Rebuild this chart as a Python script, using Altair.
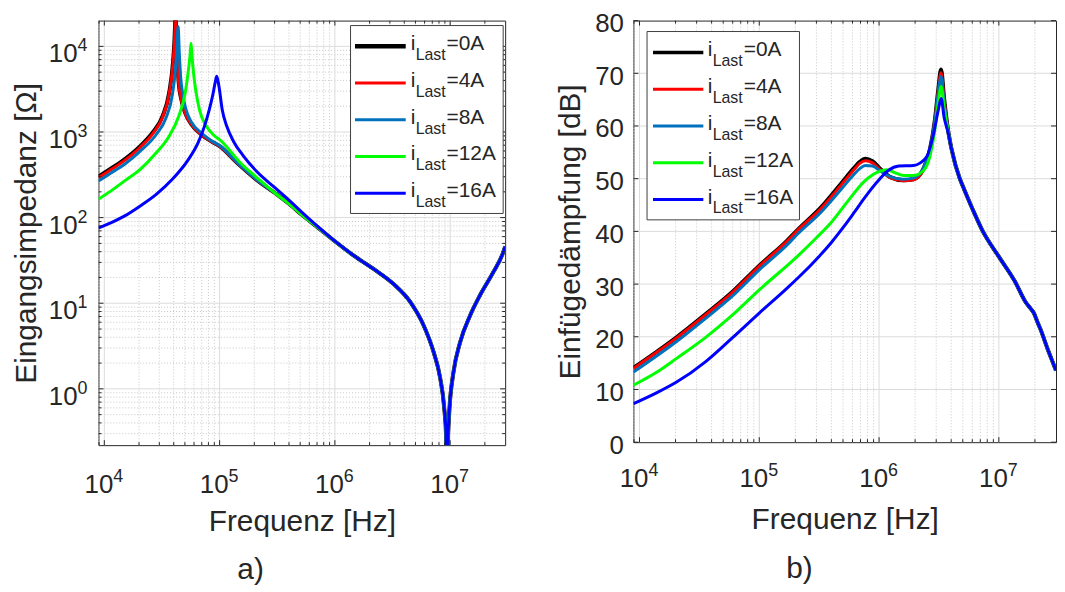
import altair as alt
import pandas as pd

FONT = "Liberation Sans"
TXT = "#262626"
GRID = "#dcdcdc"
MINOR = "#c8c8c8"

names = ["0A", "4A", "8A", "12A", "16A"]
colors = ["#000000", "#FF0000", "#0072BD", "#00FF00", "#0000FF"]
widths = [4.0, 3.0, 3.0, 3.0, 3.0]

# ---------------- panel a) Eingangsimpedanz [Ohm] ----------------
a_f_0A = [8.9e3, 1.2e4, 1.5e4, 2.05e4, 2.65e4, 3.2e4, 3.65e4, 3.94e4, 4.05e4, 4.15e4,
          4.25e4, 4.42e4, 4.66e4, 5.03e4, 5.72e4, 6.93e4, 8.41e4, 1.0e5, 1.41e5, 2.07e5]
a_z_0A = [301, 390, 480, 684, 1000, 1530, 2860, 6400, 11000, 21000,
          9500, 3740, 2390, 1670, 1220, 935, 782, 684, 440, 280]
a_z_4A = [292, 379, 466, 664, 972, 1490, 2780, 6200, 10700, 20500,
          9300, 3700, 2370, 1660, 1215, 932, 780, 683, 440, 280]
a_f_8A = [8.9e3, 1.2e4, 1.49e4, 2.05e4, 2.82e4, 3.42e4, 3.89e4, 4.12e4, 4.25e4, 4.37e4,
          4.47e4, 4.6e4, 4.8e4, 5.1e4, 5.72e4, 6.93e4, 8.4e4, 1.0e5, 1.41e5, 2.07e5]
a_z_8A = [267, 345, 418, 598, 935, 1450, 2700, 5000, 9000, 17100,
          8500, 4300, 2700, 1850, 1290, 980, 797, 695, 445, 282]
a_f_12A = [8.9e3, 1.2e4, 1.49e4, 2.05e4, 2.82e4, 3.65e4, 4.42e4, 5.03e4, 5.37e4, 5.55e4,
           5.65e4, 5.77e4, 5.95e4, 6.25e4, 6.7e4, 7.64e4, 8.97e4, 1.0e5, 1.56e5, 2.07e5]
a_z_12A = [164, 215, 267, 366, 571, 893, 1530, 2860, 5350, 8000,
           10900, 7600, 4800, 2900, 1800, 1180, 910, 815, 420, 300]
a_f_16A = [8.9e3, 1.15e4, 1.49e4, 2.05e4, 2.82e4, 3.89e4, 5.37e4, 6.5e4, 7.4e4, 8.14e4,
           8.68e4, 9.14e4, 9.44e4, 9.87e4, 1.053e5, 1.159e5, 1.318e5, 1.6e5, 2.1e5,
           3.0e5, 4.0e5, 5.3e5, 7.0e5]
a_z_16A = [76, 87.5, 104, 137, 187, 280, 479, 748, 1170, 1830,
           2610, 3740, 4470, 3420, 1830, 1150, 780, 530, 345,
           225, 160, 112, 80]
a_mid_f = [3.0e5, 4.0e5, 5.3e5, 7.0e5]
a_mid_z = [195, 145, 105, 78]
a_tail_f = [1.0e6, 1.47e6, 2.18e6, 3.24e6, 4.52e6, 5.89e6, 7.18e6, 8.2e6, 8.88e6, 9.2e6,
            9.36e6, 9.6e6, 9.87e6, 1.07e7, 1.22e7, 1.49e7, 1.81e7, 2.36e7, 2.88e7, 3.0e7]
a_tail_z = [53, 35.7, 25, 16.7, 10.3, 5.5, 2.7, 1.33, 0.6, 0.3,
            0.12, 0.3, 0.6, 1.58, 3.5, 7.2, 12.3, 22.9, 39, 46]

# ---------------- panel b) Einfuegedaempfung [dB] ----------------
b_f_low = [8.9e3, 1.4e4, 2.04e4, 3.57e4, 5.89e4, 1.0e5, 1.7e5, 2.09e5, 3.26e5, 4.79e5,
           6.17e5, 6.9e5, 7.7e5, 8.8e5, 1.03e6, 1.24e6, 1.6e6, 1.94e6, 2.34e6, 2.66e6,
           2.93e6, 3.12e6, 3.29e6, 3.5e6, 3.75e6]
b_v_0A = [14.1, 17.2, 19.9, 24.3, 28.4, 33.5, 38.2, 40.3, 44.5, 49.0,
          52.0, 53.2, 53.8, 53.3, 51.8, 50.3, 49.7, 49.9, 51.8, 55.6,
          61.3, 66.9, 70.7, 65.0, 59.5]
b_v_4A = [14.0, 17.1, 19.8, 24.2, 28.3, 33.4, 38.1, 40.2, 44.3, 48.7,
          51.7, 52.9, 53.4, 53.0, 51.6, 50.2, 49.6, 49.8, 51.7, 55.5,
          61.1, 66.6, 70.1, 64.7, 59.5]
b_v_8A = [13.3, 16.4, 19.1, 23.5, 27.6, 32.7, 37.4, 39.5, 43.6, 47.9,
          50.8, 51.9, 52.5, 52.4, 51.4, 50.4, 49.9, 50.1, 52.0, 55.6,
          61.0, 66.2, 69.4, 64.3, 59.5]
b_f_12A = [8.9e3, 1.4e4, 2.04e4, 3.57e4, 5.89e4, 1.0e5, 2.09e5, 3.0e5, 3.95e5, 5.43e5,
           7.46e5, 9.62e5, 1.16e6, 1.4e6, 1.6e6, 1.94e6, 2.34e6, 2.66e6, 2.93e6, 3.12e6,
           3.3e6, 3.5e6, 3.75e6]
b_v_12A = [10.8, 13.3, 15.9, 19.9, 24.0, 28.9, 35.3, 38.8, 41.6, 45.6,
           49.4, 51.2, 51.7, 51.0, 50.6, 50.6, 51.5, 54.3, 59.4, 64.4,
           67.5, 63.3, 59.3]
b_f_16A = [8.9e3, 1.4e4, 2.04e4, 3.57e4, 5.89e4, 1.0e5, 1.7e5, 2.09e5, 3.17e5, 4.0e5,
           5.0e5, 6.2e5, 7.7e5, 1.0e6, 1.2e6, 1.46e6, 1.94e6, 2.21e6, 2.52e6, 2.82e6,
           3.12e6, 3.3e6, 3.5e6, 3.75e6]
b_v_16A = [7.3, 9.4, 11.4, 15.3, 19.7, 24.5, 29.2, 31.1, 35.3, 37.9,
           40.7, 43.6, 46.6, 49.8, 51.6, 52.4, 52.5, 53.0, 54.3, 58.0,
           63.0, 65.2, 61.5, 59.0]
b_tail_f = [4.03e6, 4.72e6, 5.0e6, 6.01e6, 7.28e6, 1.0e7, 1.37e7, 1.66e7, 1.85e7, 1.95e7,
            2.1e7, 2.21e7, 2.6e7, 2.86e7, 3.0e7]
b_tail_v = [55.6, 50.0, 48.6, 44.3, 40.2, 35.2, 30.4, 26.7, 25.3, 24.6,
            22.8, 21.6, 17.2, 14.8, 13.6]

# ---------------- ticks ----------------
x_major = [1e4, 1e5, 1e6, 1e7]
a_x_minor = [9e3] + [m * 10 ** k for k in (4, 5, 6) for m in range(2, 10)] + [2e7]
b_x_minor = a_x_minor
a_y_major = [1, 10, 100, 1000, 10000]
a_y_minor = [m / 10 for m in range(3, 10)] + [m * 10 ** k for k in (0, 1, 2, 3) for m in range(2, 10)]
b_y_major = [0, 10, 20, 30, 40, 50, 60, 70, 80]
b_y_grid = [10, 20, 30, 40, 50, 60, 70]

ONE = pd.DataFrame({"k": [0]})
LBL = 26   # tick label font size
EXP = 18   # exponent font size


def series_df(f_parts, v_parts):
    f, v = [], []
    for a, b in zip(f_parts, v_parts):
        f += a
        v += b
    return pd.DataFrame({"f": f, "v": v})


def build_panel(dfs, XS, YS, xaxis, yaxis, W, H, x_minor, y_major_grid, y_minor,
                y_ticks_major, y_ticks_minor, leg, cap, cap_xy, xlab_base, ylog):
    layers = []

    def X(field):
        return alt.X(field, scale=XS, axis=xaxis)

    def Y(field):
        return alt.Y(field, scale=YS, axis=yaxis)

    # minor grid
    layers.append(alt.Chart(pd.DataFrame({"t": x_minor})).mark_rule(
        color=MINOR, strokeWidth=1, strokeDash=[1, 2]).encode(x=X("t:Q")))
    if y_minor:
        layers.append(alt.Chart(pd.DataFrame({"t": y_minor})).mark_rule(
            color=MINOR, strokeWidth=1, strokeDash=[1, 2]).encode(y=Y("t:Q")))
    # major grid
    layers.append(alt.Chart(pd.DataFrame({"t": x_major})).mark_rule(
        color=GRID, strokeWidth=1).encode(x=X("t:Q")))
    layers.append(alt.Chart(pd.DataFrame({"t": y_major_grid})).mark_rule(
        color=GRID, strokeWidth=1).encode(y=Y("t:Q")))
    # data lines
    for df, c, w in zip(dfs, colors, widths):
        layers.append(alt.Chart(df).mark_line(
            color=c, strokeWidth=w, clip=True, strokeJoin="round",
            interpolate="monotone").encode(x=X("f:Q"), y=Y("v:Q")))
    # inside ticks
    for vals, L in ((x_major, 5), (x_minor, 3)):
        d = pd.DataFrame({"t": vals})
        layers.append(alt.Chart(d).mark_rule(color=TXT, strokeWidth=1).encode(
            x=X("t:Q"), y=alt.value(H), y2=alt.value(H - L)))
        layers.append(alt.Chart(d).mark_rule(color=TXT, strokeWidth=1).encode(
            x=X("t:Q"), y=alt.value(0), y2=alt.value(L)))
    for vals, L in ((y_ticks_major, 5), (y_ticks_minor, 3)):
        if not vals:
            continue
        d = pd.DataFrame({"t": vals})
        layers.append(alt.Chart(d).mark_rule(color=TXT, strokeWidth=1).encode(
            y=Y("t:Q"), x=alt.value(0), x2=alt.value(L)))
        layers.append(alt.Chart(d).mark_rule(color=TXT, strokeWidth=1).encode(
            y=Y("t:Q"), x=alt.value(W), x2=alt.value(W - L)))
    # power-of-ten tick labels on the x axis ("10" + raised exponent)
    xl = alt.Chart(pd.DataFrame({"t": x_major})).transform_calculate(
        e="'' + round(log(datum.t) / LN10)")
    layers.append(xl.mark_text(text="10", font=FONT, fontSize=LBL, color=TXT,
                               align="right", baseline="alphabetic", dx=9).encode(
        x=X("t:Q"), y=alt.value(H + xlab_base)))
    layers.append(xl.mark_text(font=FONT, fontSize=EXP, color=TXT,
                               align="left", baseline="alphabetic", dx=9).encode(
        x=X("t:Q"), y=alt.value(H + xlab_base - 11), text=alt.Text("e:N")))
    if ylog:
        yl = alt.Chart(pd.DataFrame({"t": y_ticks_major})).transform_calculate(
            e="'' + round(log(datum.t) / LN10)")
        layers.append(yl.mark_text(text="10", font=FONT, fontSize=LBL, color=TXT,
                                   align="right", baseline="alphabetic", dy=16).encode(
            x=alt.value(-21), y=Y("t:Q")))
        layers.append(yl.mark_text(font=FONT, fontSize=EXP, color=TXT,
                                   align="left", baseline="alphabetic", dy=5).encode(
            x=alt.value(-21), y=Y("t:Q"), text=alt.Text("e:N")))
    # legend
    bx0, bx1, by0, by1 = leg["box"]
    layers.append(alt.Chart(ONE).mark_rect(fill="white", stroke="#404040", strokeWidth=1).encode(
        x=alt.value(bx0), x2=alt.value(bx1), y=alt.value(by0), y2=alt.value(by1)))
    lg = pd.DataFrame({"name": names, "lab": ["=" + n for n in names], "k": list(range(5))})
    y0, st = leg["y0"], leg["step"]
    base = alt.Chart(lg).transform_calculate(
        ly=f"{y0} + {st} * datum.k",
        ty=f"{y0} + {st} * datum.k + 4",
        sy=f"{y0} + {st} * datum.k + 14")
    cscale = alt.Scale(domain=names, range=colors)
    lx0, lx1 = leg["line"]
    for filt, sw in (("datum.k == 0", leg["bw"]), ("datum.k > 0", 3)):
        layers.append(base.transform_filter(filt).mark_rule(strokeWidth=sw).encode(
            x=alt.value(lx0), x2=alt.value(lx1),
            y=alt.Y("ly:Q", scale=None),
            color=alt.Color("name:N", scale=cscale, legend=None)))
    layers.append(base.mark_text(text="i", font=FONT, fontSize=21, color=TXT,
                                 align="left", baseline="alphabetic").encode(
        x=alt.value(leg["xi"]), y=alt.Y("ty:Q", scale=None)))
    layers.append(base.mark_text(text="Last", font=FONT, fontSize=16, color=TXT,
                                 align="left", baseline="alphabetic").encode(
        x=alt.value(leg["xs"]), y=alt.Y("sy:Q", scale=None)))
    layers.append(base.mark_text(font=FONT, fontSize=21, color=TXT,
                                 align="left", baseline="alphabetic").encode(
        x=alt.value(leg["xe"]), y=alt.Y("ty:Q", scale=None),
        text=alt.Text("lab:N")))
    # caption
    layers.append(alt.Chart(ONE).mark_text(text=cap, font=FONT, fontSize=30, color=TXT,
                                           align="center", baseline="alphabetic").encode(
        x=alt.value(cap_xy[0]), y=alt.value(cap_xy[1])))
    return alt.layer(*layers).properties(width=W, height=H)


# ---------- left panel ----------
WA, HA = 409, 427
XSA = alt.Scale(type="log", domain=[8.9e3, 3.0e7], nice=False)
YSA = alt.Scale(type="log", domain=[0.22, 2.0e4], nice=False)
dfs_a = [
    series_df([a_f_0A, a_mid_f, a_tail_f], [a_z_0A, a_mid_z, a_tail_z]),
    series_df([a_f_0A, a_mid_f, a_tail_f], [a_z_4A, a_mid_z, a_tail_z]),
    series_df([a_f_8A, a_mid_f, a_tail_f], [a_z_8A, a_mid_z, a_tail_z]),
    series_df([a_f_12A, a_mid_f, a_tail_f], [a_z_12A, a_mid_z, a_tail_z]),
    series_df([a_f_16A, a_tail_f], [a_z_16A, a_tail_z]),
]
xaxis_a = alt.Axis(values=x_major, labels=False, title="Frequenz [Hz]", grid=False,
                   ticks=False, tickSize=0, domain=False, titlePadding=62,
                   titleFontSize=30)
yaxis_a = alt.Axis(values=a_y_major, labels=False, title="Eingangsimpedanz [\u03a9]",
                   grid=False, ticks=False, tickSize=0, domain=False,
                   titlePadding=57, titleFontSize=30)
left = build_panel(
    dfs_a, XSA, YSA, xaxis_a, yaxis_a, WA, HA, a_x_minor, a_y_major, a_y_minor,
    a_y_major, a_y_minor,
    {"box": (253.5, 407, 5, 194), "y0": 25.7, "step": 37, "line": (258, 309),
     "xi": 314, "xs": 319, "xe": 350, "bw": 4.5},
    "a)", (153, 562), 48, True)

# ---------- right panel ----------
WB, HB = 425, 424
XSB = alt.Scale(type="log", domain=[8.9e3, 3.0e7], nice=False)
YSB = alt.Scale(type="linear", domain=[0, 80], nice=False, zero=False)
dfs_b = [
    series_df([b_f_low, b_tail_f], [b_v_0A, b_tail_v]),
    series_df([b_f_low, b_tail_f], [b_v_4A, b_tail_v]),
    series_df([b_f_low, b_tail_f], [b_v_8A, b_tail_v]),
    series_df([b_f_12A, b_tail_f], [b_v_12A, b_tail_v]),
    series_df([b_f_16A, b_tail_f], [b_v_16A, b_tail_v]),
]
xaxis_b = alt.Axis(values=x_major, labels=False, title="Frequenz [Hz]", grid=False,
                   ticks=False, tickSize=0, domain=False, titlePadding=63,
                   titleFontSize=30)
yaxis_b = alt.Axis(values=b_y_major, title="Einf\u00fcged\u00e4mpfung [dB]", grid=False,
                   ticks=False, tickSize=0, domain=False, labelPadding=10, titlePadding=9,
                   labelFontSize=LBL, titleFontSize=30, labelOffset=3)
right = build_panel(
    dfs_b, XSB, YSB, xaxis_b, yaxis_b, WB, HB, b_x_minor, b_y_grid, [],
    b_y_major, [],
    {"box": (13.7, 167, 11, 200.4), "y0": 32, "step": 37, "line": (19.7, 70.3),
     "xi": 74.7, "xs": 79.7, "xe": 111, "bw": 3.5},
    "b)", (167, 561), 45, False)

chart = alt.hconcat(left, right, spacing=49).properties(
    padding={"left": 3, "top": 0, "right": 0, "bottom": 0}
).configure_view(stroke=TXT, strokeWidth=1).configure_axis(
    labelFont=FONT, titleFont=FONT, labelColor=TXT, titleColor=TXT,
    titleFontWeight="normal")

chart.save("out.html", embed_options={"renderer": "svg", "actions": False})
